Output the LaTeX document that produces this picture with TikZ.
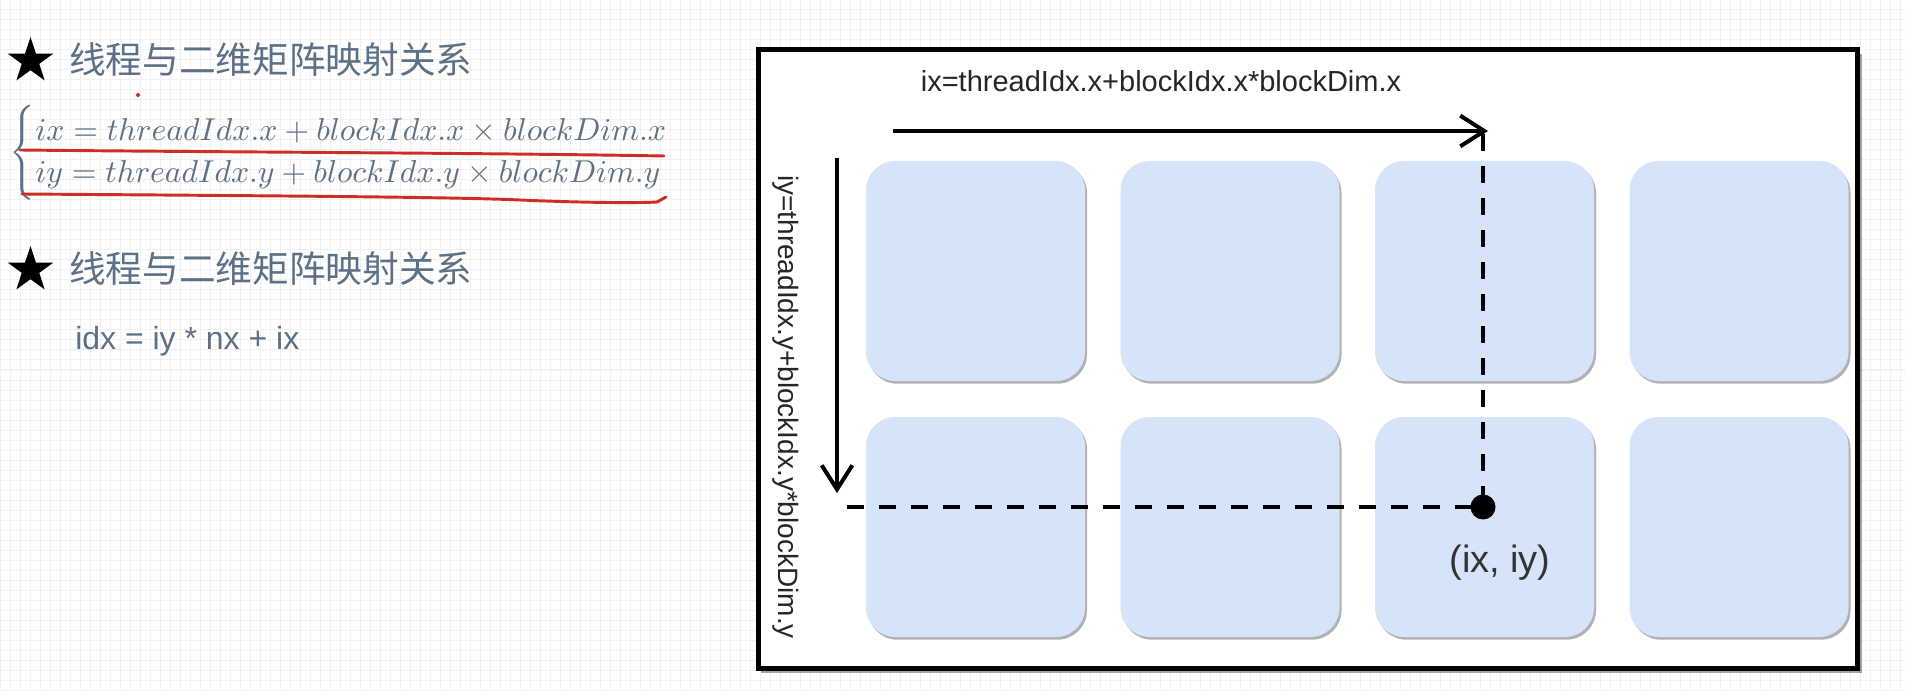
\documentclass[tikz,border=0pt]{standalone}
\usepackage[no-math]{fontspec}
\usepackage{graphicx}
\usetikzlibrary{arrows.meta,shapes.geometric,shadows}
\newfontfamily\lsans{Liberation Sans}
\newfontfamily\cjk{Noto Sans CJK SC}
\definecolor{ink}{RGB}{92,112,134}
\definecolor{cellblue}{RGB}{213,228,248}
\definecolor{gridc}{RGB}{241,241,241}
\definecolor{redpen}{RGB}{205,45,35}
\begin{document}
\begin{tikzpicture}[x=0.75pt,y=-0.75pt,
  title/.style={font=\cjk\fontsize{27.5pt}{33pt}\selectfont, text=ink, anchor=west, inner sep=0},
  bigstar/.style={star, star points=5, star point ratio=2.6, fill=black, minimum size=36pt, inner sep=0},
  cell/.style={rounded corners=22pt, fill=cellblue, minimum width=164.25pt, minimum height=165pt, inner sep=0,
    drop shadow={shadow xshift=1.5pt, shadow yshift=-2pt, fill=black, opacity=0.3}},
  lbl/.style={font=\lsans\fontsize{21.75pt}{26pt}\selectfont, text=black!85, inner sep=0},
  axis/.style={line width=3pt, -{Straight Barb[length=18pt,width=23pt]}},
  guide/.style={line width=3pt, dash pattern=on 12.75pt off 11.25pt},
]
\useasboundingbox (0,0) rectangle (1905,691);
% grid paper background
\fill[white] (0,0) rectangle (1905,691);
\foreach \gx in {0,10,...,1900} \draw[gridc, line width=0.75pt] (\gx,0) -- (\gx,691);
\foreach \gy in {0,10,...,690} \draw[gridc, line width=0.75pt] (0,\gy) -- (1905,\gy);

% ---------- left side ----------
\node[bigstar] (s1) at (30.5,61) {};
\node[title] (t1) at (69,60) {线程与二维矩阵映射关系};
\node[text=ink, inner sep=0] (eq) at (340,153) {\resizebox{495pt}{!}{$\renewcommand{\arraystretch}{1.12}\left\{\begin{array}{@{}l@{}}
 ix = threadIdx.x + blockIdx.x \times blockDim.x\\
 iy = threadIdx.y + blockIdx.y \times blockDim.y
 \end{array}\right.$}};
\draw[redpen, line width=2.2pt, line cap=round] (20,150) .. controls (200,152) and (500,153) .. (664,156);
\draw[redpen, line width=2.2pt, line cap=round, line join=round] (22,194) .. controls (300,196) and (450,197) .. (520,200) .. controls (590,203) and (640,203) .. (657,202) -- (666,197);
\fill[redpen] (138,95) circle (1.5pt);
\node[bigstar] (s2) at (30.5,270) {};
\node[title] (t2) at (69,269) {线程与二维矩阵映射关系};
\node[font=\lsans\fontsize{24pt}{28pt}\selectfont, text=ink, anchor=west, inner sep=0] (idx) at (75,341) {idx = iy * nx + ix};

% ---------- right frame ----------
\fill[black, opacity=0.35] (761,54) rectangle (1862,673);
\draw[line width=3.75pt, fill=white] (758,50) rectangle (1857,668);

\node[cell] (c11) at (975.5,271) {};
\node[cell] (c12) at (1230,271) {};
\node[cell] (c13) at (1484.5,271) {};
\node[cell] (c14) at (1739,271) {};
\node[cell] (c21) at (975.5,527) {};
\node[cell] (c22) at (1230,527) {};
\node[cell] (c23) at (1484.5,527) {};
\node[cell] (c24) at (1739,527) {};

\node[lbl] (lx) at (1161,81) {ix=threadIdx.x+blockIdx.x*blockDim.x};
\node[lbl, rotate=-90, font=\lsans\fontsize{21pt}{26pt}\selectfont] (ly) at (786,407) {iy=threadIdx.y+blockIdx.y*blockDim.y};

\coordinate (hs) at (893,131);
\coordinate (he) at (1488,131);
\coordinate (vs) at (837,158);
\coordinate (ve) at (837,493);
\draw[axis] (hs) -- (he);
\draw[axis] (vs) -- (ve);

\coordinate (dt) at (1483,134);
\coordinate (dl) at (847,507);
\coordinate (pc) at (1483,507);
\draw[guide] (dt) -- (pc);
\draw[guide] (dl) -- (pc);
\node[circle, fill=black, minimum size=18.75pt, inner sep=0] (p) at (pc) {};
\node[font=\lsans\fontsize{28.5pt}{34pt}\selectfont, text=black!80, inner sep=0] (pl) at (1500,563) {(ix, iy)};
\end{tikzpicture}
\end{document}
